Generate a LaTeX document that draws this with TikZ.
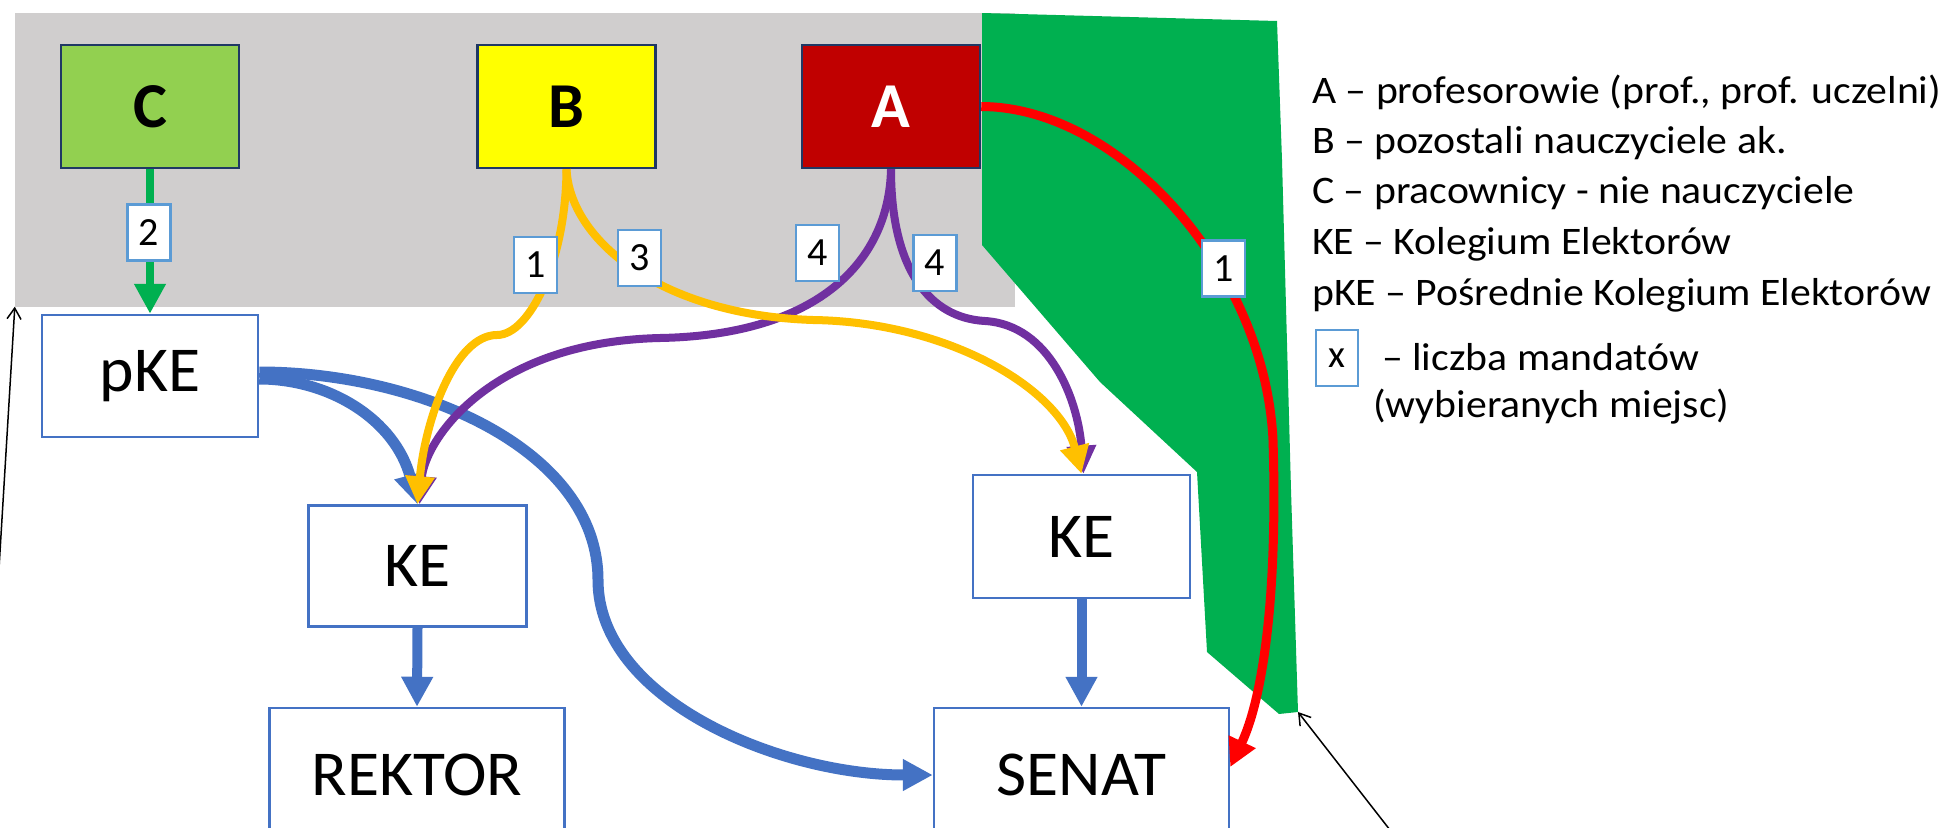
\documentclass[tikz,border=0pt]{standalone}
\usepackage{fontspec}
\setmainfont{Carlito}
\newfontfamily\legfont[FakeStretch=1.07]{Carlito}
\newfontfamily\boxfont[FakeStretch=1.025]{Carlito}
\usetikzlibrary{arrows.meta}
\definecolor{zonegray}{HTML}{D0CECE}
\definecolor{zonegreen}{HTML}{00B050}
\definecolor{cgreen}{HTML}{92D050}
\definecolor{byellow}{HTML}{FFFF00}
\definecolor{ared}{HTML}{C00000}
\definecolor{navyline}{HTML}{1F3864}
\definecolor{boxblue}{HTML}{4472C4}
\definecolor{numblue}{HTML}{5B9BD5}
\definecolor{yell}{HTML}{FFC000}
\definecolor{purp}{HTML}{7030A0}
\definecolor{redl}{HTML}{FF0000}
\begin{document}
\begin{tikzpicture}[x=1pt,y=-1pt,
  catbox/.style={draw=navyline, line width=2.5pt, minimum width=178pt, minimum height=123pt, inner sep=0pt, font=\fontsize{64}{72}\selectfont\bfseries},
  bluebox/.style={draw=boxblue, fill=white, line width=2.5pt, inner sep=0pt, font=\boxfont\fontsize{64}{72}\selectfont},
  numbox/.style={draw=numblue, fill=white, line width=2.5pt, minimum width=43pt, minimum height=56pt, inner sep=0pt, font=\fontsize{40}{44}\selectfont},
  legtxt/.style={anchor=base west, inner sep=0pt, font=\legfont\fontsize{39}{44}\selectfont},
  bigtip/.style={-{Triangle[length=30pt,width=30pt]}},
  midtip/.style={-{Triangle[length=28pt,width=28pt]}},
  thinarrow/.style={black, line width=1.5pt, -{Straight Barb[length=11pt,width=14pt]}}
]
\useasboundingbox (0,0) rectangle (1945,827);
\fill[white] (0,0) rectangle (1945,827);
% zones
\node[fill=zonegray, minimum width=1000pt, minimum height=294pt, inner sep=0pt] (zone) at (515,159.5) {};
\fill[zonegreen] (982,13) -- (1277,21) -- (1282,160) -- (1291,490) -- (1298,712) -- (1279,714) -- (1207,652) -- (1197,472) -- (1100,382) -- (982,245) -- cycle;
\coordinate (greencorner) at (1298,712);
% category boxes
\node[catbox, fill=cgreen] (C) at (150,106.5) {C};
\node[catbox, fill=byellow] (B) at (566.5,106.5) {B};
\node[catbox, fill=ared, text=white] (A) at (891,106.5) {A};
% blue boxes
\node[bluebox, minimum width=216pt, minimum height=122pt] (pKE) at (150,376) {pKE};
\node[bluebox, minimum width=218pt, minimum height=121pt] (KEl) at (417.5,566) {KE};
\node[bluebox, minimum width=217pt, minimum height=123pt] (KEr) at (1081.5,536.5) {KE};
\node[bluebox, minimum width=295pt, minimum height=134pt] (REKTOR) at (417,775) {REKTOR};
\node[bluebox, minimum width=295pt, minimum height=134pt] (SENAT) at (1081.5,775) {SENAT};
% green connector
\draw[zonegreen, line width=8pt, bigtip] (C.south) -- (pKE.north);
% blue connectors
\draw[boxblue, line width=11pt, bigtip] ([yshift=-3pt]pKE.east) .. controls (330,379) and (395,420) .. (KEl.north);
\draw[boxblue, line width=11pt, bigtip] ([yshift=4pt]pKE.east) .. controls (420,372) and (598,450) .. (598,580) .. controls (598,700) and (780,775) .. (SENAT.west);
\draw[boxblue, line width=10pt, bigtip] (KEl.south) -- (REKTOR.north);
\draw[boxblue, line width=10pt, bigtip] (KEr.south) -- (SENAT.north);
% purple connectors
\draw[purp, line width=8pt, midtip] (A.south) .. controls (889,260) and (820,335) .. (660,338) .. controls (490,342) and (425,440) .. ([xshift=2pt]KEl.north);
\draw[purp, line width=8pt, midtip] (A.south) .. controls (891,270) and (930,318) .. (985,321) .. controls (1050,325) and (1078,400) .. ([xshift=2pt]KEr.north);
% yellow connectors
\draw[yell, line width=8pt, midtip] (B.south) .. controls (566,260) and (530,335) .. (497,335) .. controls (455,335) and (425,420) .. (KEl.north);
\draw[yell, line width=8pt, midtip] (B.south) .. controls (570,240) and (660,315) .. (813,320) .. controls (950,322) and (1060,390) .. (KEr.north);
% red connector
\draw[redl, line width=9pt, midtip] (A.east) .. controls (1120,107) and (1265,270) .. (1273,440) .. controls (1278,600) and (1262,700) .. ([yshift=8pt]SENAT.east);
% number labels
\node[numbox] (n2) at (149,232.5) {2};
\node[numbox] (n1y) at (535.5,265) {1};
\node[numbox] (n3) at (639.5,258) {3};
\node[numbox] (n4a) at (817.5,253) {4};
\node[numbox] (n4b) at (935,263) {4};
\node[numbox] (n1r) at (1223.5,268.5) {1};
% thin pointer arrows
\coordinate (leftstart) at (-2,585);
\coordinate (rightstart) at (1390,830);
\draw[thinarrow] (leftstart) -- (zone.south west);
\draw[thinarrow] (rightstart) -- (greencorner);
% legend
\node[legtxt] (leg1) at (1312,103) {A – profesorowie (prof., prof. uczelni)};
\node[legtxt] (leg2) at (1312,153) {B – pozostali nauczyciele ak.};
\node[legtxt] (leg3) at (1312,203) {C – pracownicy - nie nauczyciele};
\node[legtxt] (leg4) at (1312,254) {KE – Kolegium Elektorów};
\node[legtxt] (leg5) at (1312,305) {pKE – Pośrednie Kolegium Elektorów};
\node[numbox, minimum width=42pt, minimum height=56pt, font=\fontsize{39}{44}\selectfont] (legx) at (1337,358) {x};
\node[legtxt] (leg6) at (1382,370) {– liczba mandatów};
\node[legtxt] (leg7) at (1373,417) {(wybieranych miejsc)};
\end{tikzpicture}
\end{document}
